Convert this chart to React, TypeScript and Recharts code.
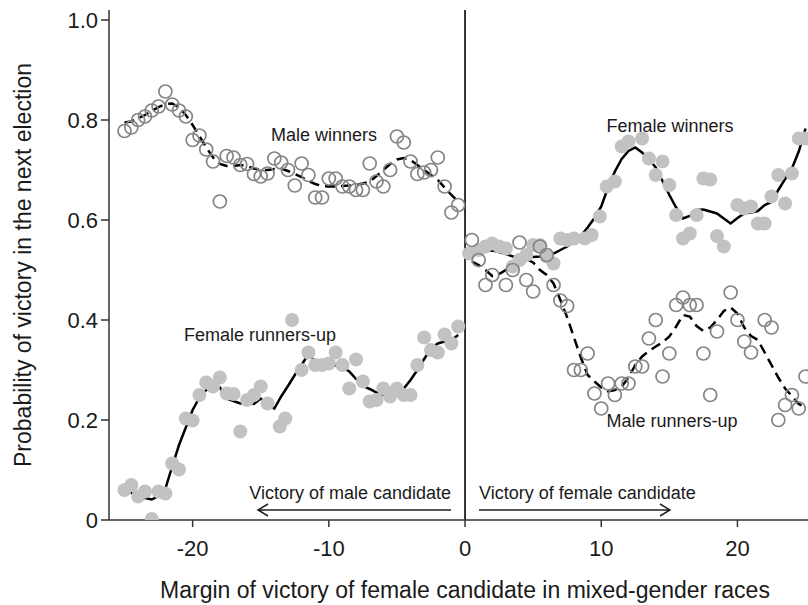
import {
  ComposedChart,
  XAxis,
  YAxis,
  Scatter,
  Line,
  ReferenceLine,
} from "recharts";

// bins left of the threshold (female lost)
const leftBins = [
  -25, -24.5, -24, -23.5, -23, -22.5, -22, -21.5, -21, -20.5, -20, -19.5, -19, -18.5, -18, -17.5, -17,
  -16.5, -16, -15.5, -15, -14.5, -14, -13.5, -13, -12.5, -12, -11.5, -11, -10.5, -10, -9.5, -9, -8.5,
  -8, -7.5, -7, -6.5, -6, -5.5, -5, -4.5, -4, -3.5, -3, -2.5, -2, -1.5, -1, -0.5,
];
// bins right of the threshold (female won)
const rightBins = [
  0.5, 1, 1.5, 2, 2.5, 3, 3.5, 4, 4.5, 5, 5.5, 6, 6.5, 7, 7.5, 8, 8.5, 9, 9.5, 10, 10.5, 11, 11.5, 12,
  12.5, 13, 13.5, 14, 14.5, 15, 15.5, 16, 16.5, 17, 17.5, 18, 18.5, 19, 19.5, 20, 20.5, 21, 21.5, 22,
  22.5, 23, 23.5, 24, 24.5, 25,
];

// Male winners (hollow, dashed)
const maleWinPts = [
  0.778, 0.785, 0.8, 0.807, 0.819, 0.827, 0.857, 0.831, 0.819, 0.807, 0.76, 0.769, 0.741, 0.717, 0.637,
  0.728, 0.725, 0.71, 0.712, 0.692, 0.687, 0.693, 0.723, 0.715, 0.7, 0.669, 0.713, 0.69, 0.645, 0.645,
  0.683, 0.683, 0.667, 0.667, 0.66, 0.66, 0.713, 0.677, 0.667, 0.7, 0.767, 0.755, 0.717, 0.692, 0.695,
  0.7, 0.725, 0.667, 0.615, 0.63,
];
const maleWinFit = [
  0.795, 0.797, 0.803, 0.81, 0.818, 0.826, 0.832, 0.833, 0.825, 0.81, 0.79, 0.768, 0.745, 0.725, 0.712,
  0.708, 0.708, 0.71, 0.708, 0.703, 0.7, 0.7, 0.702, 0.703, 0.698, 0.692, 0.686, 0.678, 0.672, 0.668,
  0.667, 0.667, 0.668, 0.669, 0.67, 0.673, 0.677, 0.688, 0.7, 0.712, 0.721, 0.724, 0.72, 0.71, 0.7,
  0.69, 0.68, 0.665, 0.65, 0.637,
];

// Female runners-up (filled, solid)
const femRunX = [
  -25, -24.5, -24, -23.5, -23, -22.5, -22, -21.5, -21, -20.5, -20, -19.5, -19, -18.5, -18, -17.5, -17,
  -16.5, -16, -15.5, -15, -14.5, -13.6, -13.2, -12.7, -12, -11.5, -11, -10.5, -10, -9.5, -9, -8.5, -8,
  -7.5, -7, -6.5, -6, -5.5, -5, -4.5, -4, -3.5, -3, -2.5, -2, -1.5, -1, -0.5,
];
const femRunPts = [
  0.06, 0.07, 0.047, 0.057, 0.002, 0.057, 0.053, 0.113, 0.101, 0.203, 0.199, 0.25, 0.275, 0.267, 0.285,
  0.253, 0.252, 0.177, 0.24, 0.25, 0.267, 0.233, 0.187, 0.203, 0.4, 0.3, 0.335, 0.31, 0.31, 0.313,
  0.335, 0.31, 0.263, 0.321, 0.277, 0.237, 0.24, 0.263, 0.247, 0.263, 0.25, 0.25, 0.31, 0.365, 0.34,
  0.335, 0.371, 0.353, 0.387,
];
const femRunFit = [
  0.061, 0.054, 0.047, 0.044, 0.041, 0.048, 0.063, 0.107, 0.15, 0.185, 0.22, 0.245, 0.26, 0.267, 0.265,
  0.243, 0.238, 0.233, 0.235, 0.232, 0.243, 0.232, 0.223, 0.247, 0.268, 0.29, 0.31, 0.332, 0.317, 0.32,
  0.312, 0.309, 0.306, 0.297, 0.282, 0.268, 0.262, 0.255, 0.25, 0.251, 0.253, 0.263, 0.28, 0.3, 0.322,
  0.343, 0.353, 0.357, 0.36, 0.37,
];

// Female winners (filled, solid)
const femWinX = [
  0.3, 1, 1.5, 2, 2.5, 3, 3.5, 4, 4.5, 5, 5.5, 6, 6.5, 7, 7.5, 8, 8.8, 9.3, 9.9, 10.4, 11, 11.5, 12,
  13, 13.5, 14, 14.5, 15, 15.5, 16, 16.5, 17, 17.5, 18, 18.5, 19, 20, 20.5, 21, 21.5, 22, 22.5, 23,
  23.5, 24, 24.5, 25,
];
const femWinPts = [
  0.533, 0.54, 0.547, 0.553, 0.547, 0.543, 0.507, 0.52, 0.53, 0.55, 0.55, 0.527, 0.513, 0.563, 0.56,
  0.563, 0.563, 0.57, 0.607, 0.667, 0.677, 0.747, 0.757, 0.763, 0.723, 0.69, 0.717, 0.67, 0.61, 0.563,
  0.573, 0.61, 0.683, 0.681, 0.568, 0.547, 0.63, 0.623, 0.627, 0.593, 0.593, 0.647, 0.69, 0.633, 0.693,
  0.763, 0.763,
];
const femWinFit = [
  0.53, 0.537, 0.538, 0.539, 0.536, 0.532, 0.527, 0.526, 0.525, 0.526, 0.527, 0.53, 0.533, 0.54, 0.547,
  0.556, 0.568, 0.585, 0.604, 0.627, 0.665, 0.697, 0.722, 0.738, 0.745, 0.735, 0.722, 0.705, 0.678,
  0.65, 0.625, 0.603, 0.608, 0.62, 0.621, 0.617, 0.613, 0.603, 0.593, 0.604, 0.613, 0.615, 0.618, 0.63,
  0.636, 0.66, 0.682, 0.703, 0.737, 0.783,
];

// Male runners-up (hollow, dashed)
const maleRunX = [
  0.5, 1, 1.5, 2, 3, 3.5, 4, 4.5, 5, 5.5, 6, 6.5, 7, 7.5, 8, 8.5, 9, 9.5, 10, 10.5, 11, 11.5, 12, 12.5,
  13, 13.5, 14, 14.5, 15, 15.5, 16, 16.5, 17, 17.5, 18, 18.5, 19.5, 20, 20.5, 21, 22, 22.5, 23, 23.5,
  24, 24.5, 25,
];
const maleRunPts = [
  0.56, 0.52, 0.47, 0.49, 0.47, 0.5, 0.555, 0.48, 0.457, 0.547, 0.53, 0.47, 0.439, 0.428, 0.3, 0.3,
  0.333, 0.253, 0.223, 0.273, 0.25, 0.273, 0.273, 0.307, 0.307, 0.363, 0.4, 0.287, 0.333, 0.43, 0.445,
  0.43, 0.43, 0.333, 0.25, 0.377, 0.455, 0.4, 0.357, 0.335, 0.4, 0.385, 0.2, 0.23, 0.25, 0.223, 0.287,
];
const maleRunFit = [
  0.517, 0.51, 0.5, 0.488, 0.492, 0.5, 0.505, 0.51, 0.522, 0.515, 0.5, 0.49, 0.473, 0.44, 0.405, 0.365,
  0.325, 0.29, 0.277, 0.265, 0.257, 0.26, 0.267, 0.285, 0.31, 0.327, 0.338, 0.347, 0.355, 0.367, 0.387,
  0.41, 0.407, 0.388, 0.378, 0.385, 0.4, 0.418, 0.425, 0.413, 0.385, 0.368, 0.36, 0.335, 0.31, 0.285,
  0.263, 0.248, 0.232, 0.225,
];

const xTicks = [-20, -10, 0, 10, 20];
const yTicks = [0, 0.2, 0.4, 0.6, 0.8, 1.0];

const pair = (xs: number[], ys: number[]) => xs.map((x, i) => ({ x, y: ys[i] }));

const FONT = "'Liberation Sans', Arial, sans-serif";
const INK = "#1a1a1a";

const Hollow = (p: any) => (
  <circle cx={p.cx} cy={p.cy} r={6.5} fill="none" stroke="#858585" strokeWidth={1.7} />
);
const Filled = (p: any) => <circle cx={p.cx} cy={p.cy} r={7} fill="#c2c2c2" />;

export default function App() {
  return (
    <div style={{ position: "absolute", left: 0, top: 0 }}>
      <ComposedChart width={808} height={605} margin={{ top: 10, right: 0, bottom: 0, left: 0 }}>
        <XAxis
          type="number"
          dataKey="x"
          domain={[-26.14, 25.18]}
          ticks={xTicks}
          allowDataOverflow
          height={85}
          tickSize={7}
          tickMargin={13}
          axisLine={{ stroke: "#333", strokeWidth: 1.5 }}
          tickLine={{ stroke: "#333", strokeWidth: 1.5 }}
          tick={{ fontSize: 22, fontFamily: FONT, fill: INK }}
        />
        <YAxis
          type="number"
          dataKey="y"
          domain={[0, 1.02]}
          ticks={yTicks}
          allowDataOverflow
          width={109}
          tickSize={8}
          tickMargin={3}
          tickFormatter={(v: number) => (v === 0 ? "0" : v.toFixed(1))}
          axisLine={{ stroke: "#333", strokeWidth: 1.5 }}
          tickLine={{ stroke: "#333", strokeWidth: 1.5 }}
          tick={{ fontSize: 22, fontFamily: FONT, fill: INK }}
        />
        <ReferenceLine x={0} stroke="#000" strokeWidth={1.6} />

        <Scatter data={pair(leftBins, maleWinPts)} shape={Hollow} isAnimationActive={false} />
        <Scatter data={pair(femRunX, femRunPts)} shape={Filled} isAnimationActive={false} />
        <Scatter data={pair(femWinX, femWinPts)} shape={Filled} isAnimationActive={false} />
        <Scatter data={pair(maleRunX, maleRunPts)} shape={Hollow} isAnimationActive={false} />

        <Line
          data={pair(leftBins, maleWinFit)}
          dataKey="y"
          type="linear"
          stroke="#000"
          strokeWidth={2.5}
          strokeDasharray="10 6"
          dot={false}
          activeDot={false}
          isAnimationActive={false}
        />
        <Line
          data={pair(leftBins, femRunFit)}
          dataKey="y"
          type="linear"
          stroke="#000"
          strokeWidth={2.5}
          dot={false}
          activeDot={false}
          isAnimationActive={false}
        />
        <Line
          data={pair(rightBins, femWinFit)}
          dataKey="y"
          type="linear"
          stroke="#000"
          strokeWidth={2.5}
          dot={false}
          activeDot={false}
          isAnimationActive={false}
        />
        <Line
          data={pair(rightBins, maleRunFit)}
          dataKey="y"
          type="linear"
          stroke="#000"
          strokeWidth={2.5}
          strokeDasharray="10 6"
          dot={false}
          activeDot={false}
          isAnimationActive={false}
        />

        {/* annotations */}
        <g fontFamily={FONT} fill={INK} fontSize={18}>
          <text x={324} y={141} textAnchor="middle">Male winners</text>
          <text x={670} y={132} textAnchor="middle">Female winners</text>
          <text x={260} y={341} textAnchor="middle">Female runners-up</text>
          <text x={672} y={427} textAnchor="middle">Male runners-up</text>
          <text x={451} y={499} textAnchor="end">Victory of male candidate</text>
          <text x={479} y={499} textAnchor="start">Victory of female candidate</text>
        </g>
        <g stroke="#222" strokeWidth={1.5} fill="none">
          <path d="M451,510 H258 M268,504 L258,510 L268,516" />
          <path d="M479,510 H670 M660,504 L670,510 L660,516" />
        </g>
        <text
          transform="rotate(-90)"
          x={-265}
          y={31}
          textAnchor="middle"
          fontSize={23}
          fontFamily={FONT}
          fill={INK}
        >
          Probability of victory in the next election
        </text>
        <text x={465} y={598} textAnchor="middle" fontSize={23} fontFamily={FONT} fill={INK}>
          Margin of victory of female candidate in mixed-gender races
        </text>
      </ComposedChart>
    </div>
  );
}
